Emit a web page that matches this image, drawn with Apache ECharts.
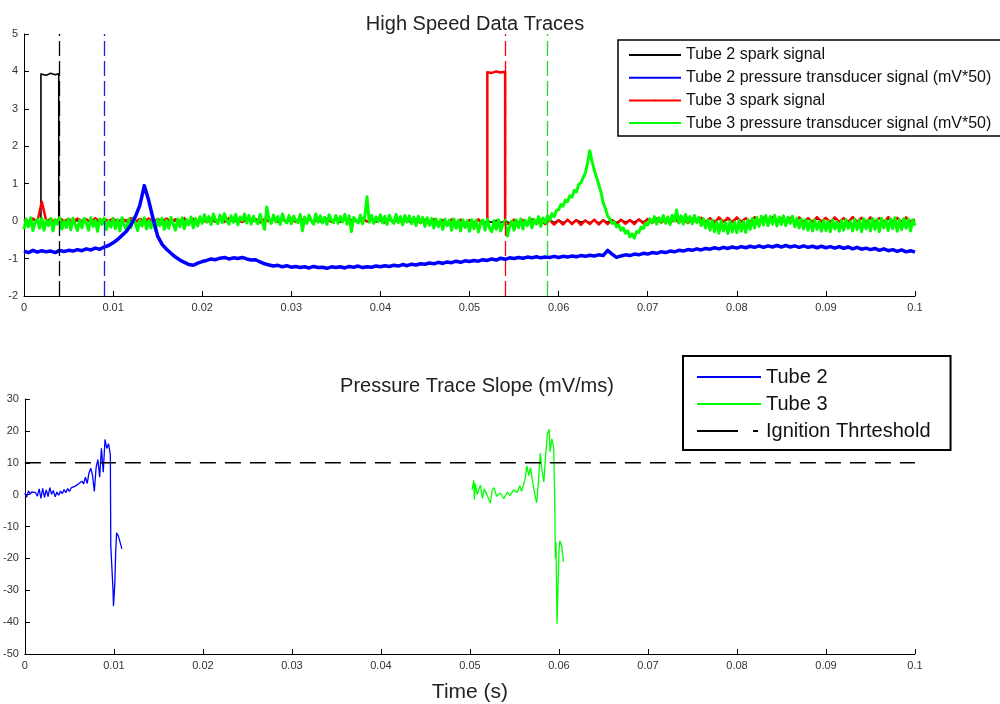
<!DOCTYPE html>
<html><head><meta charset="utf-8">
<script src="https://cdn.jsdelivr.net/npm/echarts/dist/echarts.min.js"></script>
<style>html,body{margin:0;padding:0;background:#fff}#c{width:1000px;height:704px}</style>
</head><body><div id="c"></div>
<script>
// ---------- DATA ----------
const timeStep = 0.0005;   // spark / tube 2 traces sampled on a 0 .. 0.1 s grid
const greenStep = 0.00025; // tube 3 pressure trace sampled more finely
const xTicks = [0, 0.01, 0.02, 0.03, 0.04, 0.05, 0.06, 0.07, 0.08, 0.09, 0.1];

const tube2SparkBase = [
 0.02,-0.03,0.04,-0.02,0.03,-0.01,0.05,-0.03,0.02,-0.02,
 0.03,-0.04,0.02,-0.01,0.04,-0.03,0.03,-0.02,0.05,-0.01,
 0.02,-0.03,0.04,-0.02,0.03,-0.04,0.02,-0.01,0.04,-0.03,
 0.03,-0.02,0.05,-0.03,0.02,-0.01,0.04,-0.02,0.03,-0.04,
 0.02,-0.02,0.04,-0.03,0.03,-0.01,0.05,-0.02,0.02,-0.03,
 0.04,-0.02,0.03,-0.04,0.02,-0.01,0.04,-0.03,0.03,-0.02,
 0.05,-0.01,0.02,-0.03,0.04,-0.02,0.03,-0.04,0.02,-0.01,
 0.03,-0.03,0.04,-0.02,0.02,-0.04,0.05,-0.01,0.03,-0.02,
 0.02,-0.04,0.03,-0.03,0.04,-0.02,0.02,-0.05,0.03,-0.04,
 0.01,-0.05,0.02,-0.06,0.01,-0.04,0.03,-0.05,0.02,-0.06,
 0.01,-0.04,0.02,-0.05,0.00,-0.03,0.02,-0.04,0.01,-0.05,
 0.02,-0.03,0.03,-0.04,0.01,-0.05,0.02,-0.03,0.04,-0.04,
 0.03,-0.04,0.02,-0.05,0.03,-0.03,0.01,-0.04,0.02,-0.05,
 0.02,-0.03,0.04,-0.04,0.03,-0.02,0.02,-0.03,0.04,-0.02,
 0.05,-0.02,0.04,-0.03,0.06,-0.01,0.05,-0.02,0.04,-0.03,
 0.06,-0.01,0.05,-0.02,0.07,-0.01,0.06,-0.02,0.05,-0.01,
 0.07,0.00,0.06,-0.01,0.08,-0.02,0.06,0.00,0.07,-0.01,
 0.06,-0.02,0.07,-0.01,0.08,0.00,0.06,-0.01,0.07,-0.02,
 0.08,-0.01,0.06,-0.02,0.07,0.00,0.08,-0.01,0.06,-0.02,
 0.07,-0.01,0.08,-0.02,0.06,0.00,0.07,-0.01,0.08,-0.02,
 0.03];
const tube2PulseT = [0.0019, 0.0025, 0.003, 0.0035, 0.0039];
const tube2PulseV = [3.93, 3.90, 3.95, 3.91, 3.94];

const tube2Pressure = [
 -0.80,-0.84,-0.78,-0.83,-0.79,-0.82,-0.80,-0.84,-0.78,-0.81,
 -0.78,-0.80,-0.76,-0.79,-0.74,-0.77,-0.72,-0.75,-0.69,-0.65,
 -0.58,-0.49,-0.38,-0.27,-0.10,0.12,0.42,0.95,0.55,0.05,
 -0.40,-0.62,-0.75,-0.86,-0.96,-1.04,-1.10,-1.16,-1.18,-1.12,
 -1.08,-1.05,-1.01,-1.03,-0.99,-0.97,-1.01,-0.98,-1.00,-0.97,
 -1.01,-1.04,-1.03,-1.09,-1.14,-1.17,-1.20,-1.18,-1.22,-1.19,
 -1.23,-1.21,-1.24,-1.22,-1.25,-1.21,-1.24,-1.23,-1.26,-1.22,
 -1.24,-1.22,-1.25,-1.21,-1.23,-1.20,-1.24,-1.22,-1.23,-1.20,
 -1.22,-1.19,-1.21,-1.18,-1.20,-1.16,-1.19,-1.15,-1.17,-1.14,
 -1.15,-1.12,-1.14,-1.10,-1.13,-1.09,-1.11,-1.07,-1.10,-1.06,
 -1.08,-1.05,-1.07,-1.03,-1.05,-1.01,-1.04,-0.99,-1.02,-0.98,
 -1.00,-0.97,-0.99,-0.96,-0.98,-0.95,-0.98,-0.96,-0.97,-0.94,
 -0.97,-0.94,-0.96,-0.93,-0.95,-0.92,-0.94,-0.91,-0.93,-0.90,
 -0.92,-0.78,-0.88,-0.97,-0.93,-0.90,-0.92,-0.88,-0.90,-0.86,
 -0.88,-0.84,-0.86,-0.82,-0.84,-0.80,-0.82,-0.78,-0.80,-0.76,
 -0.78,-0.74,-0.77,-0.73,-0.75,-0.71,-0.74,-0.70,-0.73,-0.69,
 -0.72,-0.68,-0.71,-0.67,-0.70,-0.66,-0.70,-0.66,-0.69,-0.65,
 -0.69,-0.65,-0.69,-0.66,-0.70,-0.66,-0.70,-0.67,-0.71,-0.67,
 -0.71,-0.68,-0.72,-0.68,-0.73,-0.69,-0.74,-0.70,-0.75,-0.72,
 -0.76,-0.73,-0.78,-0.74,-0.79,-0.76,-0.81,-0.77,-0.82,-0.79,
 -0.83];

const tube3SparkBase = [
 0.05,-0.02,0.07,-0.01,0.52,0.00,0.06,-0.03,0.08,0.00,
 0.06,-0.02,0.07,0.00,0.05,-0.03,0.08,-0.01,0.06,0.00,
 0.07,-0.02,0.05,0.01,0.08,-0.02,0.06,0.00,0.07,-0.03,
 0.06,-0.01,0.07,-0.02,0.05,0.00,0.08,-0.02,0.06,-0.01,
 0.05,-0.03,0.07,-0.01,0.06,-0.02,0.08,0.00,0.05,-0.02,
 0.07,-0.01,0.06,-0.03,0.05,0.00,0.07,-0.02,0.06,-0.01,
 0.06,-0.02,0.08,-0.01,0.05,-0.03,0.06,0.00,0.07,-0.02,
 0.05,-0.01,0.07,-0.02,0.06,-0.03,0.08,-0.01,0.05,0.00,
 0.06,-0.03,0.07,-0.02,0.05,-0.04,0.06,-0.02,0.05,-0.05,
 0.04,-0.06,0.05,-0.05,0.03,-0.07,0.05,-0.06,0.04,-0.07,
 0.03,-0.06,0.05,-0.07,0.04,-0.05,0.03,-0.06,0.05,-0.07,
 0.04,-0.08,0.03,-0.06,0.05,-0.07,0.04,-0.08,0.03,-0.09,
 0.02,-0.09,0.04,-0.08,0.03,-0.10,0.02,-0.08,0.04,-0.09,
 0.03,-0.08,0.02,-0.09,0.04,-0.07,0.03,-0.08,0.05,-0.06,
 0.06,-0.05,0.07,-0.04,0.05,-0.06,0.08,-0.04,0.06,-0.05,
 0.07,-0.03,0.09,-0.02,0.08,-0.04,0.10,-0.02,0.09,-0.03,
 0.10,-0.02,0.08,-0.03,0.11,-0.01,0.09,-0.02,0.10,-0.03,
 0.08,-0.04,0.09,-0.02,0.10,-0.03,0.08,-0.02,0.11,-0.01,
 0.09,-0.03,0.10,-0.02,0.08,-0.04,0.11,-0.02,0.09,-0.03,
 0.10,-0.02,0.08,-0.03,0.11,-0.02,0.09,-0.04,0.10,-0.02,
 0.04];
const tube3PulseT = [0.052, 0.0525, 0.053, 0.0535, 0.054];
const tube3PulseV = [3.98, 3.96, 4.00, 3.97, 3.99];

const tube3Pressure = [
 -0.22,0.06,-0.15,0.09,-0.25,-0.02,0.05,-0.19,0.08,-0.24,0.02,-0.12,0.07,-0.26,0.04,-0.08,0.09,-0.21,0.01,-0.17,
 0.06,-0.23,0.08,-0.10,-0.25,0.03,-0.18,0.07,-0.05,-0.24,0.09,-0.14,0.02,-0.27,0.06,-0.09,0.08,-0.22,0.00,-0.16,
 0.07,-0.20,0.04,-0.26,0.09,-0.11,-0.23,0.05,-0.17,0.08,-0.06,-0.25,0.03,-0.13,0.09,-0.21,0.01,-0.18,0.07,-0.24,
 0.05,-0.12,0.08,-0.22,0.02,-0.19,0.10,-0.08,-0.24,0.06,-0.15,0.09,-0.20,0.04,-0.10,0.11,-0.18,0.07,-0.13,0.12,
 -0.06,0.17,-0.02,0.12,-0.09,0.19,0.03,-0.07,0.16,-0.04,0.20,0.01,-0.08,0.14,-0.03,0.18,-0.10,0.11,0.02,0.19,
 -0.05,0.15,-0.08,0.13,0.00,-0.07,0.18,-0.03,-0.22,0.38,0.04,-0.06,0.16,-0.02,0.12,-0.09,0.19,0.01,-0.05,0.15,
 -0.07,0.13,0.02,-0.04,0.18,-0.26,0.11,-0.06,0.16,0.00,-0.08,0.19,-0.03,0.14,-0.05,0.10,-0.09,0.17,0.02,-0.04,
 0.15,-0.06,0.12,-0.02,0.18,-0.08,0.14,-0.28,0.10,0.02,-0.05,0.16,-0.07,0.13,0.65,-0.03,0.15,-0.06,0.11,-0.01,
 0.17,-0.05,0.13,-0.09,0.16,0.01,-0.06,0.18,-0.04,0.12,-0.10,0.15,-0.02,0.14,-0.07,0.11,-0.12,0.13,-0.04,0.10,
 -0.14,0.09,-0.11,0.07,-0.18,0.06,-0.15,0.04,-0.22,0.05,-0.12,0.03,-0.24,0.06,-0.19,0.02,-0.26,0.04,-0.17,0.01,
 -0.27,0.04,-0.20,0.02,-0.29,-0.05,0.03,-0.24,0.05,-0.18,-0.28,0.01,-0.22,0.04,-0.26,-0.08,0.02,-0.40,-0.15,0.00,
 -0.24,0.03,-0.17,0.06,-0.21,0.02,-0.12,0.09,-0.18,0.05,-0.08,0.12,-0.14,0.08,-0.04,0.14,0.02,0.20,0.12,0.28,
 0.30,0.44,0.40,0.56,0.52,0.68,0.64,0.82,0.78,0.98,1.02,1.16,1.28,1.56,1.88,1.60,1.36,1.18,0.98,0.78,
 0.50,0.34,0.14,0.06,-0.06,-0.02,-0.15,-0.10,-0.24,-0.18,-0.32,-0.26,-0.42,-0.34,-0.45,-0.28,-0.30,-0.16,-0.20,-0.06,
 -0.10,0.06,-0.04,0.12,-0.08,0.09,-0.02,0.15,-0.06,0.11,-0.09,0.16,0.00,0.30,-0.05,0.14,-0.08,0.18,-0.03,0.12,
 -0.07,0.15,-0.04,0.10,-0.12,0.06,-0.18,0.03,-0.24,0.02,-0.28,-0.02,-0.32,0.01,-0.26,-0.04,-0.33,0.00,-0.29,-0.03,
 -0.31,0.02,-0.27,-0.01,-0.30,0.04,-0.22,0.07,-0.18,0.10,-0.14,0.13,-0.10,0.15,-0.12,0.12,-0.08,0.16,-0.13,0.11,
 -0.09,0.14,-0.12,0.10,-0.06,0.13,-0.15,0.08,-0.18,0.05,-0.21,0.04,-0.24,0.01,-0.26,0.03,-0.22,-0.01,-0.27,0.02,
 -0.25,0.00,-0.28,0.03,-0.21,-0.02,-0.27,0.01,-0.24,0.04,-0.19,-0.01,-0.26,0.05,-0.22,0.02,-0.28,0.06,-0.20,0.03,
 -0.26,0.07,-0.22,0.04,-0.28,0.08,-0.18,0.02,-0.25,0.06,-0.20,0.09,-0.27,0.03,-0.23,0.07,-0.19,0.05,-0.26,0.04,
 -0.12];

// ignition times marked by dashed verticals: tube2 spark, tube2 ignition, tube3 spark, tube3 ignition
const markerTimes = [0.004, 0.009, 0.054, 0.0587];

// Pressure trace slope (mV/ms)
const tube2SlopeT = [0,0.0002,0.0004,0.0006,0.0008,0.001,0.0012,0.0014,0.0016,0.0018,0.002,0.0022,0.0024,0.0026,0.0028,0.003,0.0032,0.0034,0.0036,0.0038,0.004,0.0042,0.0044,0.0046,0.0048,0.005,0.0052,0.0054,0.0056,0.0058,0.006,0.0062,0.0064,0.0066,0.0068,0.007,0.0072,0.0074,0.0076,0.0078,0.008,0.0082,0.0084,0.0086,0.0088,0.009,0.0092,0.0094,0.0096,0.00965,0.0098,0.0099,0.00995,0.0101,0.0102,0.0103,0.0105,0.0107,0.0109];
const tube2SlopeV = [0.5,-0.8,1.2,0.2,0.9,0.3,0.6,-0.5,1.8,-1.2,2.0,-0.9,1.5,-0.6,2.2,0.1,1.3,-0.7,0.8,-0.2,1.1,0.3,1.6,0.6,1.9,1.0,2.1,1.6,2.6,2.2,3.3,3.0,4.2,3.4,5.5,3.5,6.8,8.3,6.0,1.0,8.5,11.0,5.5,14.5,7.0,17.3,14.5,16.0,12.5,-16.0,-16.0,-30.0,-35.0,-28.0,-18.0,-12.0,-13.0,-15.0,-17.0];
const tube3SlopeT = [0.05024,0.05043,0.0505,0.0506,0.0508,0.05118,0.0514,0.0516,0.0519,0.0523,0.0525,0.0527,0.0530,0.0534,0.0538,0.0542,0.0545,0.0549,0.0553,0.0556,0.0558,0.0562,0.0564,0.0566,0.0568,0.0571,0.0574,0.0575,0.0577,0.0579,0.0581,0.0583,0.0585,0.0587,0.0589,0.0590,0.0592,0.0594,0.0595,0.0596,0.05967,0.05978,0.0599,0.0600,0.0601,0.0603,0.0605];
const tube3SlopeV = [1.5,4.5,-1.5,3.5,0.0,3.0,-1.2,1.8,0.0,-2.7,1.5,2.2,-0.5,0.5,-1.3,0.8,-0.3,1.5,0.7,2.8,1.0,5.0,9.0,6.0,8.5,3.0,-1.5,-2.5,4.0,13.0,7.5,4.0,12.0,19.0,20.5,13.5,17.5,15.0,2.0,-20.0,-15.0,-40.5,-28.0,-18.0,-14.5,-16.0,-21.0];
const ignitionThreshold = 10;

// ---------- BUILD ----------
const times = tube2Pressure.map((_, i) => +(i * timeStep).toFixed(5));
const greenTimes = tube3Pressure.map((_, i) => +(i * greenStep).toFixed(5));
const pairs = (ts, vs) => ts.map((t, i) => [t, vs[i]]);
function withPulse(base, pT, pV) {
  const s = pT[0], e = pT[pT.length - 1];
  const out = []; let inserted = false; let last = base[0];
  times.forEach((t, i) => {
    if (t < s) { out.push([t, base[i]]); last = base[i]; return; }
    if (t <= e) return;
    if (!inserted) {
      out.push([s, last]);
      pT.forEach((pt, k) => out.push([pt, pV[k]]));
      out.push([e, base[i]]);
      inserted = true;
    }
    out.push([t, base[i]]);
  });
  return out;
}

const FONT = '"Liberation Sans", Arial, sans-serif';
const BLACK = '#000000', BLUE = '#0000ff', RED = '#ff0000', GREEN = '#00ff00';

function xAxis(gi, extra) {
  return Object.assign({
    type: 'value', gridIndex: gi, min: 0, max: 0.1, interval: 0.01,
    axisLine: { show: true, onZero: false, lineStyle: { color: '#000', width: 1 } },
    axisTick: { show: true, inside: true, length: 5, lineStyle: { color: '#000' } },
    axisLabel: { color: '#333', fontSize: 11, fontFamily: FONT, margin: 6,
      formatter: v => String(+v.toFixed(2)) },
    splitLine: { show: false }
  }, extra || {});
}
function yAxis(gi, min, max, interval) {
  return {
    type: 'value', gridIndex: gi, min, max, interval,
    axisLine: { show: true, onZero: false, lineStyle: { color: '#000', width: 1 } },
    axisTick: { show: true, inside: true, length: 5, lineStyle: { color: '#000' } },
    axisLabel: { color: '#333', fontSize: 11, fontFamily: FONT, margin: 6 },
    splitLine: { show: false }
  };
}
function marker(t, color) {
  return { silent: true, symbol: ['none', 'none'], label: { show: false }, animation: false, precision: 5,
    lineStyle: { color, type: [15, 5], width: 1.3 }, emphasis: { disabled: true },
    data: [{ xAxis: t }] };
}
const lineBase = { type: 'line', symbol: 'none', animation: false, silent: true, emphasis: { disabled: true } };

const option = {
  animation: false,
  backgroundColor: '#fff',
  title: [
    { text: 'High Speed Data Traces', left: 470, top: 9, textAlign: 'center',
      textStyle: { fontSize: 20, fontWeight: 'normal', color: '#222', fontFamily: FONT } },
    { text: 'Pressure Trace Slope (mV/ms)', left: 472, top: 371, textAlign: 'center',
      textStyle: { fontSize: 20, fontWeight: 'normal', color: '#222', fontFamily: FONT } }
  ],
  grid: [
    { left: 24, right: 85, top: 34, bottom: 408 },
    { left: 24, right: 85, top: 399, bottom: 41 }
  ],
  xAxis: [
    xAxis(0),
    xAxis(1, { name: 'Time (s)', nameLocation: 'middle', nameGap: 28,
      nameTextStyle: { fontSize: 21, color: '#222', fontFamily: FONT } })
  ],
  yAxis: [ yAxis(0, -2, 5, 1), yAxis(1, -50, 30, 10) ],
  legend: [
    { orient: 'vertical', left: 618, top: 40, padding: [7, 12, 5, 10], itemGap: 6.7,
      itemWidth: 52, itemHeight: 2, borderColor: '#000', borderWidth: 1.5, backgroundColor: '#fff',
      selectedMode: false, textStyle: { fontSize: 16, lineHeight: 16, color: '#111', fontFamily: FONT },
      data: [
        { name: 'Tube 2 spark signal', lineStyle: { width: 2 } },
        { name: 'Tube 2 pressure transducer signal (mV*50)', lineStyle: { width: 2 } },
        { name: 'Tube 3 spark signal', lineStyle: { width: 2 } },
        { name: 'Tube 3 pressure transducer signal (mV*50)', lineStyle: { width: 2 } }
      ] },
    { orient: 'vertical', left: 683, top: 356, padding: [11, 20, 9, 13], itemGap: 7,
      itemWidth: 64, itemHeight: 2, borderColor: '#000', borderWidth: 2, backgroundColor: '#fff',
      selectedMode: false, textStyle: { fontSize: 20, lineHeight: 20, color: '#111', fontFamily: FONT },
      data: [
        { name: 'Tube 2', lineStyle: { width: 2 } },
        { name: 'Tube 3', lineStyle: { width: 2 } },
        { name: 'Ignition Thrteshold', lineStyle: { width: 2, type: [41, 15, 5, 10] } }
      ] }
  ],
  series: [
    Object.assign({}, lineBase, { name: 'Tube 2 spark signal', xAxisIndex: 0, yAxisIndex: 0,
      data: withPulse(tube2SparkBase, tube2PulseT, tube2PulseV), color: BLACK,
      lineStyle: { color: BLACK, width: 1.6, join: 'round' }, markLine: marker(markerTimes[0], BLACK) }),
    Object.assign({}, lineBase, { name: 'Tube 3 spark signal', xAxisIndex: 0, yAxisIndex: 0,
      data: withPulse(tube3SparkBase, tube3PulseT, tube3PulseV), color: RED,
      lineStyle: { color: RED, width: 2.5, join: 'round' }, markLine: marker(markerTimes[2], RED) }),
    Object.assign({}, lineBase, { name: 'Tube 3 pressure transducer signal (mV*50)', xAxisIndex: 0, yAxisIndex: 0,
      data: pairs(greenTimes, tube3Pressure), color: GREEN,
      lineStyle: { color: GREEN, width: 3, join: 'round' }, markLine: marker(markerTimes[3], '#22dd22') }),
    Object.assign({}, lineBase, { name: 'Tube 2 pressure transducer signal (mV*50)', xAxisIndex: 0, yAxisIndex: 0,
      data: pairs(times, tube2Pressure), color: BLUE,
      lineStyle: { color: BLUE, width: 3.5, join: 'round' }, markLine: marker(markerTimes[1], '#2222cc') }),
    Object.assign({}, lineBase, { name: 'Tube 2', xAxisIndex: 1, yAxisIndex: 1,
      data: pairs(tube2SlopeT, tube2SlopeV), color: BLUE, lineStyle: { color: BLUE, width: 1.3 } }),
    Object.assign({}, lineBase, { name: 'Tube 3', xAxisIndex: 1, yAxisIndex: 1,
      data: pairs(tube3SlopeT, tube3SlopeV), color: GREEN, lineStyle: { color: GREEN, width: 1.3 } }),
    Object.assign({}, lineBase, { name: 'Ignition Thrteshold', xAxisIndex: 1, yAxisIndex: 1,
      data: [[xTicks[0], ignitionThreshold], [xTicks[xTicks.length - 1], ignitionThreshold]], color: BLACK,
      lineStyle: { color: BLACK, width: 1.3, type: [16, 9] } })
  ]
};
const chart = echarts.init(document.getElementById('c'), null, { renderer: 'canvas' });
chart.setOption(option);
</script></body></html>
